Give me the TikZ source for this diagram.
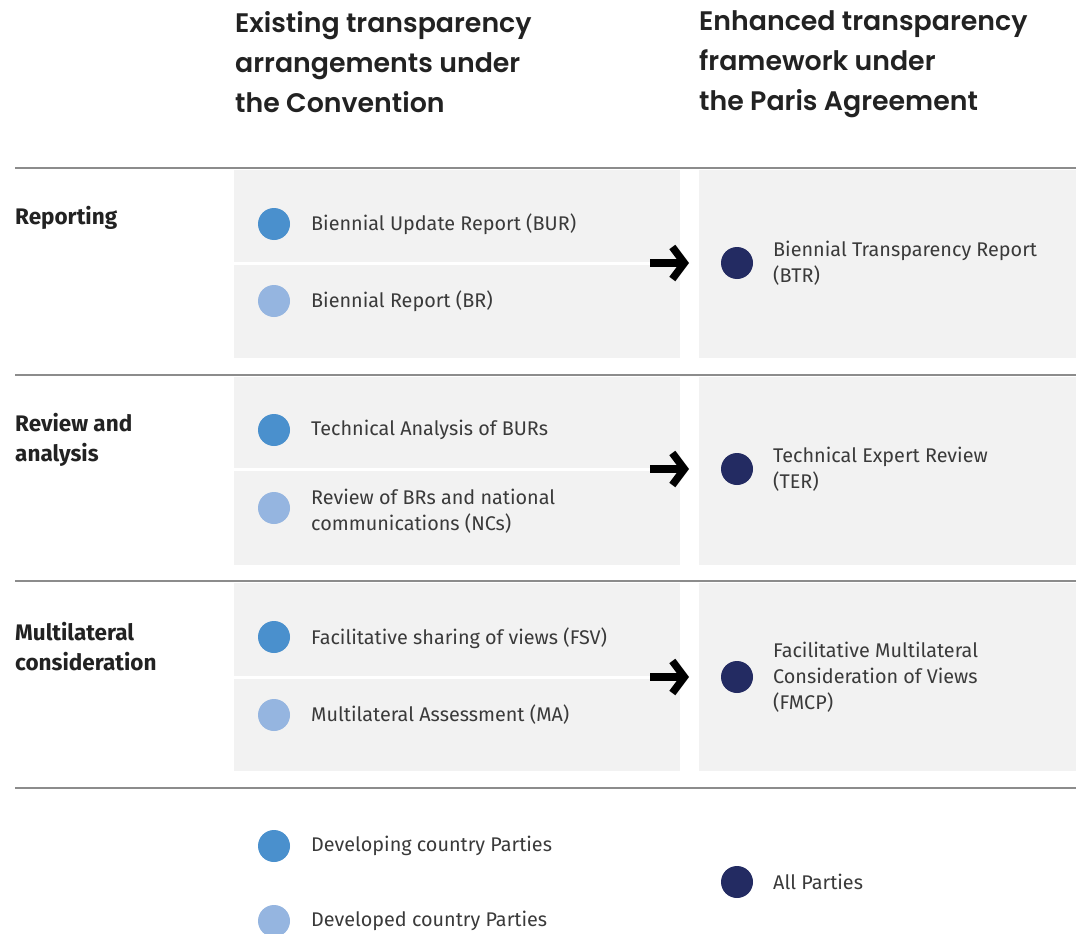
\documentclass[tikz,border=0pt]{standalone}
\usepackage{fontspec}
\setmainfont{Fira Sans}
\newfontfamily\titlefont{Poppins SemiBold}
\usetikzlibrary{arrows.meta}
\definecolor{midblue}{HTML}{4A90CD}
\definecolor{lightblue}{HTML}{95B5E0}
\definecolor{navy}{HTML}{232B62}
\definecolor{boxgray}{HTML}{F2F2F2}
\definecolor{txt}{HTML}{3A3A3A}
\definecolor{hdr}{HTML}{222222}
\definecolor{rulegray}{HTML}{8C8C8C}
\begin{document}
\begin{tikzpicture}[x=1pt,y=-1pt,
  dotbase/.style={circle,minimum size=32pt,inner sep=0pt,draw=none},
  dotA/.style={dotbase,fill=midblue},
  dotB/.style={dotbase,fill=lightblue},
  dotC/.style={dotbase,fill=navy},
  item/.style={anchor=west,align=left,inner sep=0pt,text=txt,font=\fontsize{19.8}{26}\selectfont},
  side/.style={anchor=west,align=left,inner sep=0pt,text=hdr,font=\fontsize{22.5}{30}\selectfont\bfseries},
  title/.style={anchor=west,align=left,inner sep=0pt,text=hdr,font=\fontsize{26.8}{40}\selectfont\titlefont},
  leftbox/.style={anchor=north west,fill=boxgray,draw=none,minimum width=446pt,minimum height=188pt,inner sep=0pt},
  rightbox/.style={anchor=north west,fill=boxgray,draw=none,minimum width=377pt,minimum height=188pt,inner sep=0pt},
  sep/.style={rulegray,line width=1.3pt},
  divider/.style={white,line width=3pt},
  bigarrow/.style={line width=8.5pt,black,-{Straight Barb[length=12pt,width=32pt,line width=7.5pt]}}
]
\useasboundingbox (0,0) rectangle (1076,934);

% titles
\node[title] (t1) at (235,62) {Existing transparency\\arrangements under\\the Convention};
\node[title] (t2) at (699,64.5) {Enhanced transparency\\framework under\\the Paris Agreement};

% horizontal rules
\draw[sep] (15,168) -- (1076,168);
\draw[sep] (15,375) -- (1076,375);
\draw[sep] (15,581) -- (1076,581);
\draw[sep] (15,788) -- (1076,788);

% boxes
\node[leftbox] (lb1) at (234,170) {};
\node[rightbox] (rb1) at (699,170) {};
\node[leftbox] (lb2) at (234,377) {};
\node[rightbox] (rb2) at (699,377) {};
\node[leftbox] (lb3) at (234,583) {};
\node[rightbox] (rb3) at (699,583) {};

% dividers and arrows
\coordinate (d1) at (234,263); \coordinate (a1s) at (650,263); \coordinate (a1e) at (689,263);
\coordinate (d2) at (234,469); \coordinate (a2s) at (650,469); \coordinate (a2e) at (689,469);
\coordinate (d3) at (234,677); \coordinate (a3s) at (650,677); \coordinate (a3e) at (689,677);
\draw[divider] (d1) -- (a1s);
\draw[divider] (d2) -- (a2s);
\draw[divider] (d3) -- (a3s);
\draw[bigarrow] (a1s) -- (a1e);
\draw[bigarrow] (a2s) -- (a2e);
\draw[bigarrow] (a3s) -- (a3e);

% side labels
\node[side] (s1) at (15,218) {Reporting};
\node[side] (s2) at (15,440) {Review and\\analysis};
\node[side] (s3) at (15,647) {Multilateral\\consideration};

% row 1
\node[dotA] (p1a) at (274,224) {};
\node[item] (i1a) at (311,224) {Biennial Update Report (BUR)};
\node[dotB] (p1b) at (274,301) {};
\node[item] (i1b) at (311,301) {Biennial Report (BR)};
\node[dotC] (p1c) at (737,263) {};
\node[item] (i1c) at (773,263) {Biennial Transparency Report\\(BTR)};

% row 2
\node[dotA] (p2a) at (274,430) {};
\node[item] (i2a) at (311,430) {Technical Analysis of BURs};
\node[dotB] (p2b) at (274,508) {};
\node[item] (i2b) at (311,511) {Review of BRs and national\\communications (NCs)};
\node[dotC] (p2c) at (737,469) {};
\node[item] (i2c) at (773,469) {Technical Expert Review\\(TER)};

% row 3
\node[dotA] (p3a) at (274,637) {};
\node[item] (i3a) at (311,638) {Facilitative sharing of views (FSV)};
\node[dotB] (p3b) at (274,715) {};
\node[item] (i3b) at (311,715) {Multilateral Assessment (MA)};
\node[dotC] (p3c) at (737,677) {};
\node[item] (i3c) at (773,677) {Facilitative Multilateral\\Consideration of Views\\(FMCP)};

% legend
\node[dotA] (l1) at (274,846) {};
\node[item] (lt1) at (311,846) {Developing country Parties};
\node[dotB] (l2) at (274,921) {};
\node[item] (lt2) at (311,921) {Developed country Parties};
\node[dotC] (l3) at (737,882) {};
\node[item] (lt3) at (773,882) {All Parties};
\end{tikzpicture}
\end{document}
